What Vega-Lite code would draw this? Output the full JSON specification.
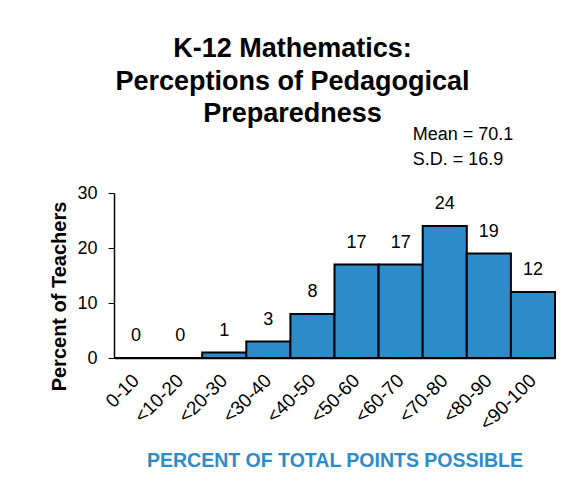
{
  "$schema": "https://vega.github.io/schema/vega-lite/v6.json",
  "autosize": {"type": "none"},
  "width": 441,
  "height": 165,
  "padding": {"left": 114, "top": 193, "right": 21, "bottom": 142},
  "background": "white",
  "title": {
    "text": ["K-12 Mathematics:", "Perceptions of Pedagogical", "Preparedness"],
    "font": "Liberation Sans",
    "fontSize": 27,
    "fontWeight": "bold",
    "color": "black",
    "lineHeight": 32.5,
    "anchor": "middle",
    "frame": "group",
    "dx": -42,
    "offset": -2
  },
  "datasets": {
    "bins": [
      {"range": "0-10", "pct": 0},
      {"range": "<10-20", "pct": 0},
      {"range": "<20-30", "pct": 1},
      {"range": "<30-40", "pct": 3},
      {"range": "<40-50", "pct": 8},
      {"range": "<50-60", "pct": 17},
      {"range": "<60-70", "pct": 17},
      {"range": "<70-80", "pct": 24},
      {"range": "<80-90", "pct": 19},
      {"range": "<90-100", "pct": 12}
    ],
    "stats": [
      {"range": "<60-70", "pct": 40.5, "label": "Mean = 70.1"},
      {"range": "<60-70", "pct": 36, "label": "S.D. = 16.9"}
    ]
  },
  "layer": [
    {
      "data": {"name": "bins"},
      "mark": {"type": "bar", "color": "#2E8BC9", "stroke": "black", "strokeWidth": 2},
      "encoding": {
        "x": {
          "field": "range", "type": "nominal", "sort": null,
          "scale": {"paddingInner": 0, "paddingOuter": 0},
          "axis": {
            "title": "PERCENT OF TOTAL POINTS POSSIBLE",
            "titleColor": "#2E8BC9",
            "titleFont": "Liberation Sans",
            "titleFontSize": 19.5,
            "titleFontWeight": "bold",
            "titlePadding": 18,
            "labelAngle": -45,
            "labelAlign": "right",
            "labelBaseline": "middle",
            "labelFont": "Liberation Sans",
            "labelFontSize": 19,
            "labelColor": "black",
            "labelPadding": 19,
            "ticks": false,
            "domainColor": "black",
            "domainWidth": 1.5
          }
        },
        "y": {
          "field": "pct", "type": "quantitative",
          "scale": {"domain": [0, 30], "nice": false},
          "axis": {
            "title": "Percent of Teachers",
            "titleFont": "Liberation Sans",
            "titleFontSize": 20,
            "titleFontWeight": "bold",
            "titleColor": "black",
            "titleX": -49,
            "titleY": 103,
            "titleBaseline": "alphabetic",
            "values": [0, 10, 20, 30],
            "grid": false,
            "labelFont": "Liberation Sans",
            "labelFontSize": 18,
            "labelColor": "black",
            "labelPadding": 11,
            "tickColor": "black",
            "tickSize": 6,
            "domainColor": "black",
            "domainWidth": 1.5
          }
        }
      }
    },
    {
      "data": {"name": "bins"},
      "mark": {"type": "text", "font": "Liberation Sans", "fontSize": 18, "color": "black", "baseline": "middle", "dy": -22},
      "encoding": {
        "x": {"field": "range", "type": "nominal", "sort": null},
        "y": {"field": "pct", "type": "quantitative"},
        "text": {"field": "pct", "type": "quantitative"}
      }
    },
    {
      "data": {"name": "stats"},
      "mark": {"type": "text", "font": "Liberation Sans", "fontSize": 18, "color": "black", "baseline": "middle", "align": "left", "dx": 12, "clip": false},
      "encoding": {
        "x": {"field": "range", "type": "nominal", "sort": null},
        "y": {"field": "pct", "type": "quantitative"},
        "text": {"field": "label", "type": "nominal"}
      }
    }
  ],
  "config": {
    "view": {"stroke": null}
  }
}
